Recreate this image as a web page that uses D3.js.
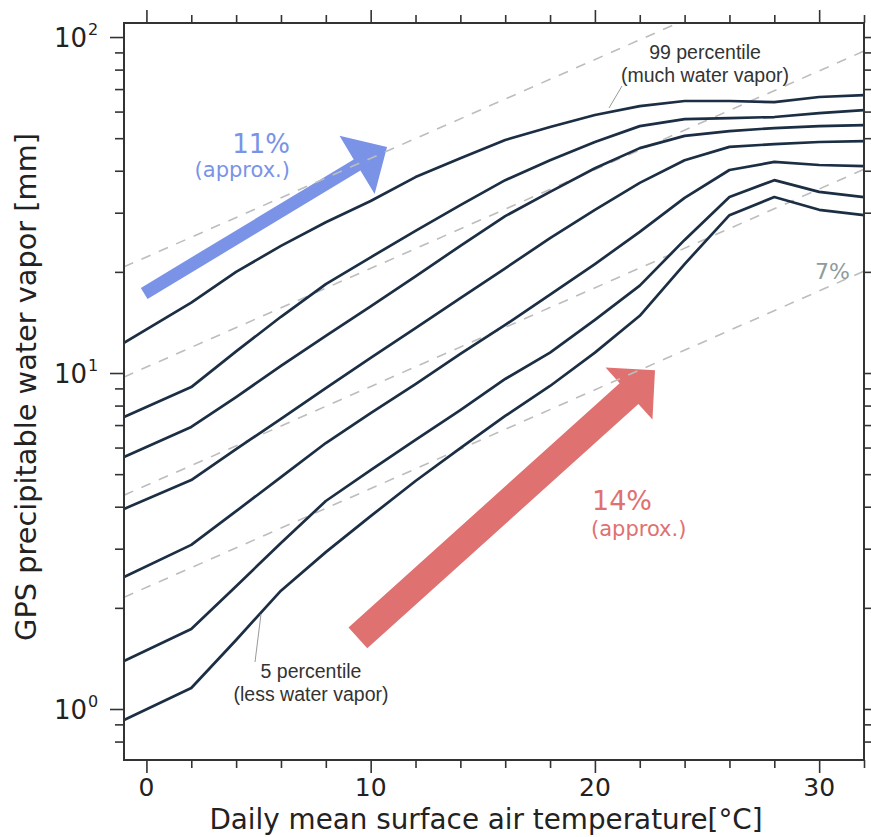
<!DOCTYPE html>
<html>
<head>
<meta charset="utf-8">
<script src="https://cdn.jsdelivr.net/npm/d3@7"></script>
<style>
body { margin: 0; background: #fff; }
svg { display: block; }
</style>
</head>
<body>
<div id="chart"></div>
<script>
// temperature bins [deg C] shared by every percentile curve
var temps = [-1, 2, 4, 6, 8, 10, 12, 14, 16, 18, 20, 22, 24, 26, 28, 30, 32];

// precipitable water vapor [mm], top curve = 99 percentile, bottom = 5 percentile
var curve99 = [12.3, 16.2, 20.0, 23.9, 28.1, 32.5, 38.3, 43.6, 49.4, 54.0, 58.6, 62.3, 64.5, 64.5, 64.0, 66.3, 67.2];
var curveB  = [7.40, 9.08, 11.6, 14.7, 18.4, 22.1, 26.5, 31.6, 37.5, 43.0, 48.7, 54.3, 57.0, 57.4, 57.8, 59.4, 60.6];
var curveC  = [5.62, 6.91, 8.48, 10.5, 12.9, 15.8, 19.4, 23.9, 29.3, 34.6, 40.7, 46.7, 50.8, 52.5, 53.6, 54.3, 54.7];
var curveD  = [3.94, 4.80, 5.94, 7.30, 9.02, 11.1, 13.6, 16.7, 20.5, 25.2, 30.6, 36.8, 43.0, 47.1, 48.0, 48.7, 49.0];
var curveE  = [2.47, 3.08, 3.88, 4.90, 6.19, 7.60, 9.27, 11.4, 13.9, 17.1, 21.1, 26.3, 33.2, 40.2, 42.5, 41.6, 41.3];
var curveF  = [1.39, 1.73, 2.32, 3.12, 4.16, 5.14, 6.32, 7.76, 9.60, 11.5, 14.4, 18.2, 24.9, 33.4, 37.5, 34.6, 33.4];
var curve5  = [0.927, 1.155, 1.605, 2.25, 2.93, 3.75, 4.77, 5.98, 7.45, 9.15, 11.5, 14.8, 21.1, 29.5, 33.4, 30.6, 29.5];

// dashed 7 %/degC reference lines, value at each end
var refT = [-1, 32];
var ref1 = [20.7, 193];
var ref2 = [9.73, 90.8];
var ref3 = [4.33, 40.4];
var ref4 = [2.15, 20.1];

// ticks
var xMajor = [0, 10, 20, 30];
var xMinor = [2, 4, 6, 8, 12, 14, 16, 18, 22, 24, 26, 28, 32];
var yMajor = [1, 10, 100];
var yExponents = ["0", "1", "2"];
var yMinor = [0.8, 0.9, 2, 3, 4, 5, 6, 7, 8, 9, 20, 30, 40, 50, 60, 70, 80, 90];

// trend arrows [temperature, mm] tail -> tip
var blueArrow = [[-0.1, 17.25], [10.73, 47.1]];
var redArrow = [[9.43, 1.627], [22.68, 10.2]];

var W = 871, H = 837;
var margin = {top: 23, right: 7, bottom: 77, left: 124};
var width = W - margin.left - margin.right;
var height = H - margin.top - margin.bottom;

var svg = d3.select("#chart").append("svg")
    .attr("width", W)
    .attr("height", H);

var x = d3.scaleLinear().domain([-1, 32]).range([margin.left, margin.left + width]);
var y = d3.scaleLog().domain([0.705, 110.1]).range([margin.top + height, margin.top]);

svg.append("clipPath").attr("id", "plot-clip")
    .append("rect")
    .attr("x", margin.left).attr("y", margin.top)
    .attr("width", width).attr("height", height);

// arrows go underneath everything else
function arrowPath(a, shaftW, headW, headL) {
    var x0 = x(a[0][0]), y0 = y(a[0][1]), x1 = x(a[1][0]), y1 = y(a[1][1]);
    var len = Math.hypot(x1 - x0, y1 - y0);
    var ux = (x1 - x0) / len, uy = (y1 - y0) / len;
    var px = -uy, py = ux;
    var bx = x1 - ux * headL, by = y1 - uy * headL;
    var pts = [
        [x0 + px * shaftW / 2, y0 + py * shaftW / 2],
        [bx + px * shaftW / 2, by + py * shaftW / 2],
        [bx + px * headW, by + py * headW],
        [x1, y1],
        [bx - px * headW, by - py * headW],
        [bx - px * shaftW / 2, by - py * shaftW / 2],
        [x0 - px * shaftW / 2, y0 - py * shaftW / 2]
    ];
    return "M" + pts.map(function(p) { return p.join(","); }).join("L") + "Z";
}

svg.append("path").attr("d", arrowPath(blueArrow, 13, 34, 35)).attr("fill", "#7a93e7");
svg.append("path").attr("d", arrowPath(redArrow, 28, 35, 35)).attr("fill", "#e07171");

var plot = svg.append("g").attr("clip-path", "url(#plot-clip)");

// dashed reference lines
var refLines = [ref1, ref2, ref3, ref4];
plot.selectAll(".ref")
    .data(refLines)
    .enter().append("line")
        .attr("x1", x(refT[0]))
        .attr("x2", x(refT[1]))
        .attr("y1", function(d) { return y(d[0]); })
        .attr("y2", function(d) { return y(d[1]); })
        .attr("stroke", "#bdbdbd")
        .attr("stroke-width", 1.6)
        .attr("stroke-dasharray", "10,9");

// percentile curves
var curves = [curve99, curveB, curveC, curveD, curveE, curveF, curve5];
var line = d3.line()
    .x(function(d, i) { return x(temps[i]); })
    .y(function(d) { return y(d); });

plot.selectAll(".curve")
    .data(curves)
    .enter().append("path")
        .attr("d", line)
        .attr("fill", "none")
        .attr("stroke", "#1b2e44")
        .attr("stroke-width", 2.7)
        .attr("stroke-linejoin", "round");

// frame
svg.append("rect")
    .attr("x", margin.left).attr("y", margin.top)
    .attr("width", width).attr("height", height)
    .attr("fill", "none")
    .attr("stroke", "#333")
    .attr("stroke-width", 2);

// axes: majors and minors drawn separately so they get different lengths
function styleAxis(g) {
    g.select(".domain").remove();
    g.selectAll(".tick line").attr("stroke", "#333").attr("stroke-width", 1.6);
    g.selectAll(".tick text").remove();
}

var bottomY = margin.top + height, rightX = margin.left + width;

svg.append("g").attr("transform", "translate(0," + bottomY + ")")
    .call(d3.axisBottom(x).tickValues(xMajor).tickSize(13).tickSizeOuter(0)).call(styleAxis);
svg.append("g").attr("transform", "translate(0," + bottomY + ")")
    .call(d3.axisBottom(x).tickValues(xMinor).tickSize(8).tickSizeOuter(0)).call(styleAxis);
svg.append("g").attr("transform", "translate(0," + margin.top + ")")
    .call(d3.axisTop(x).tickValues(xMajor).tickSize(13).tickSizeOuter(0)).call(styleAxis);
svg.append("g").attr("transform", "translate(0," + margin.top + ")")
    .call(d3.axisTop(x).tickValues(xMinor).tickSize(8).tickSizeOuter(0)).call(styleAxis);

svg.append("g").attr("transform", "translate(" + margin.left + ",0)")
    .call(d3.axisLeft(y).tickValues(yMajor).tickSize(14).tickSizeOuter(0)).call(styleAxis);
svg.append("g").attr("transform", "translate(" + margin.left + ",0)")
    .call(d3.axisLeft(y).tickValues(yMinor).tickSize(9).tickSizeOuter(0)).call(styleAxis);
svg.append("g").attr("transform", "translate(" + rightX + ",0)")
    .call(d3.axisRight(y).tickValues(yMajor).tickSize(13).tickSizeOuter(0)).call(styleAxis);
svg.append("g").attr("transform", "translate(" + rightX + ",0)")
    .call(d3.axisRight(y).tickValues(yMinor).tickSize(8).tickSizeOuter(0)).call(styleAxis);

var axisFont = "'DejaVu Sans', Verdana, sans-serif";

// x tick labels
svg.selectAll(".xlab")
    .data(xMajor)
    .enter().append("text")
        .attr("x", function(d) { return x(d); })
        .attr("y", 796)
        .attr("text-anchor", "middle")
        .attr("font-family", axisFont)
        .attr("font-size", 25)
        .attr("fill", "#222")
        .text(function(d) { return d; });

// y tick labels as 10 with a raised exponent
yMajor.forEach(function(v, i) {
    svg.append("text")
        .attr("x", 87)
        .attr("y", y(v) + 10)
        .attr("text-anchor", "end")
        .attr("font-family", axisFont)
        .attr("font-size", 26)
        .attr("fill", "#222")
        .text("10");
    svg.append("text")
        .attr("x", 88)
        .attr("y", y(v) - 2)
        .attr("font-family", axisFont)
        .attr("font-size", 16)
        .attr("fill", "#222")
        .text(yExponents[i]);
});

// axis titles
svg.append("text")
    .attr("x", 486)
    .attr("y", 829)
    .attr("text-anchor", "middle")
    .attr("font-family", axisFont)
    .attr("font-size", 27.8)
    .attr("fill", "#222")
    .text("Daily mean surface air temperature[°C]");

svg.append("text")
    .attr("transform", "translate(36,387) rotate(-90)")
    .attr("text-anchor", "middle")
    .attr("font-family", axisFont)
    .attr("font-size", 28.8)
    .attr("fill", "#222")
    .text("GPS precipitable water vapor [mm]");

// percentile annotations with leader lines
var noteFont = "'Liberation Sans', Arial, sans-serif";
svg.append("line").attr("x1", 622).attr("y1", 86).attr("x2", 609).attr("y2", 108)
    .attr("stroke", "#999").attr("stroke-width", 1);
svg.append("line").attr("x1", 255).attr("y1", 662).attr("x2", 261).attr("y2", 614)
    .attr("stroke", "#999").attr("stroke-width", 1);

var notes = [
    {t: "99 percentile", x: 705, y: 59},
    {t: "(much water vapor)", x: 705, y: 82},
    {t: "5 percentile", x: 311, y: 678},
    {t: "(less water vapor)", x: 311, y: 701}
];
svg.selectAll(".note")
    .data(notes)
    .enter().append("text")
        .attr("x", function(d) { return d.x; })
        .attr("y", function(d) { return d.y; })
        .attr("text-anchor", "middle")
        .attr("font-family", noteFont)
        .attr("font-size", 19.5)
        .attr("fill", "#333")
        .text(function(d) { return d.t; });

// rate labels
svg.append("text").attr("x", 290).attr("y", 153).attr("text-anchor", "end")
    .attr("font-family", axisFont).attr("font-size", 26).attr("fill", "#7a93e7").text("11%");
svg.append("text").attr("x", 290).attr("y", 177).attr("text-anchor", "end")
    .attr("font-family", axisFont).attr("font-size", 21).attr("fill", "#7a93e7").text("(approx.)");
svg.append("text").attr("x", 592).attr("y", 510)
    .attr("font-family", axisFont).attr("font-size", 27).attr("fill", "#e07171").text("14%");
svg.append("text").attr("x", 591).attr("y", 536)
    .attr("font-family", axisFont).attr("font-size", 21).attr("fill", "#e07171").text("(approx.)");
svg.append("text").attr("x", 815).attr("y", 279)
    .attr("font-family", axisFont).attr("font-size", 22).attr("fill", "#8e9c9c").text("7%");
</script>
</body>
</html>
